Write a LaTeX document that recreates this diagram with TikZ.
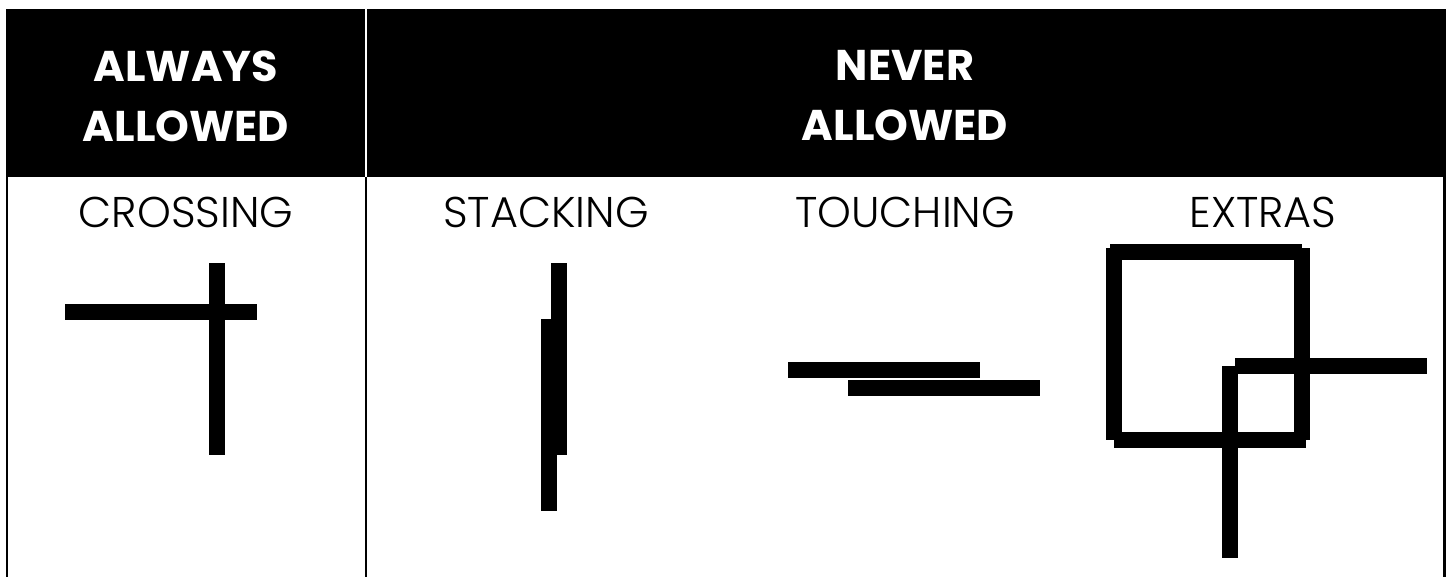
\documentclass[tikz,border=0pt]{standalone}
\usepackage{fontspec}
\setmainfont{Poppins}
\newfontfamily\labelfont{Poppins Light}
\begin{document}
\begin{tikzpicture}[x=1pt, y=-1pt,
    headtext/.style={text=white, font=\fontsize{43}{60}\selectfont\bfseries,
      align=center, inner sep=0pt},
    rulelabel/.style={font=\labelfont\fontsize{43}{48}\selectfont, anchor=base,
      inner sep=0pt},
    bar/.style={fill=black},
    tableline/.style={line width=2.5pt}
  ]
  \useasboundingbox (0,0) rectangle (1449,577);
  % header row
  \fill[black] (6,9) rectangle (1446,177);
  \draw[white, line width=2pt] (366,9) -- (366,177);
  \node[headtext] (always) at (186,96) {ALWAYS\\ALLOWED};
  \node[headtext] (never) at (905,96) {NEVER\\ALLOWED};
  % column rules
  \foreach \x in {7,366,1444.5}
    \draw[tableline] (\x,177) -- (\x,577);
  % rule names
  \node[rulelabel] (crossing) at (186,228) {CROSSING};
  \node[rulelabel] (stacking) at (546,228) {STACKING};
  \node[rulelabel] (touching) at (905,228) {TOUCHING};
  \node[rulelabel] (extras) at (1263,228) {EXTRAS};
  % crossing
  \fill[bar] (65,304) rectangle (257,320);
  \fill[bar] (209,263) rectangle (225,455);
  % stacking
  \fill[bar] (551,263) rectangle (567,455);
  \fill[bar] (541,319) rectangle (557,511);
  % touching
  \fill[bar] (788,362) rectangle (980,378);
  \fill[bar] (848,380) rectangle (1040,396);
  % extras
  \fill[bar] (1110,244) rectangle (1302,260);
  \fill[bar] (1294,248) rectangle (1310,440);
  \fill[bar] (1114,432) rectangle (1306,448);
  \fill[bar] (1106,248) rectangle (1122,440);
  \fill[bar] (1235,358) rectangle (1427,374);
  \fill[bar] (1222,366) rectangle (1238,558);
\end{tikzpicture}
\end{document}
